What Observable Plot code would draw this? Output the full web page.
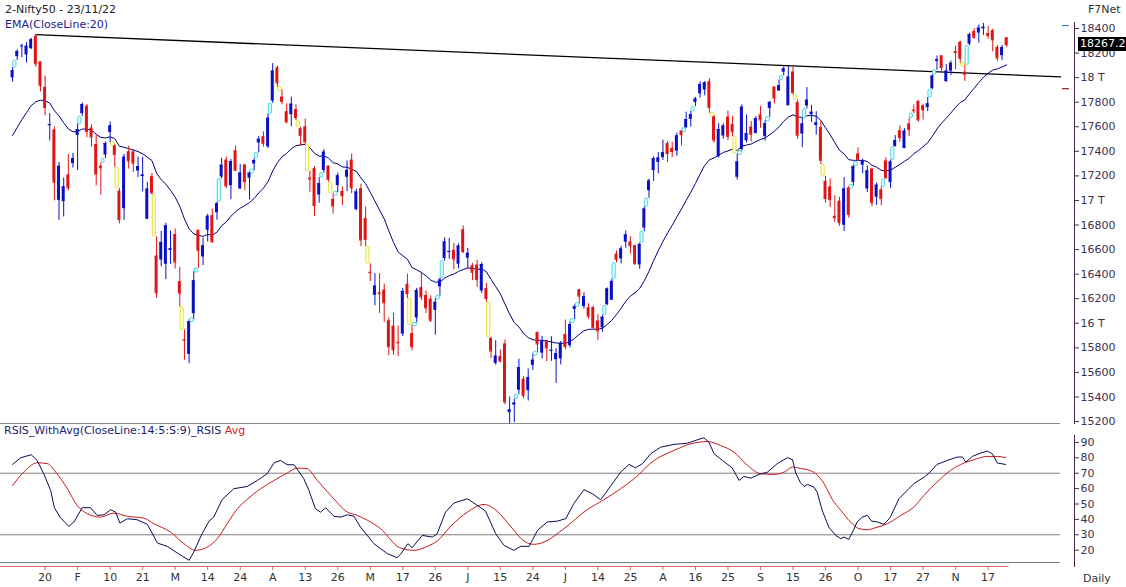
<!DOCTYPE html>
<html><head><meta charset="utf-8">
<script src="https://cdn.jsdelivr.net/npm/d3@7"></script>
<script src="https://cdn.jsdelivr.net/npm/@observablehq/plot@0.6"></script>
<style>
body{margin:0;background:#fff;}
#wrap{position:relative;width:1126px;height:587px;overflow:hidden;font-family:"DejaVu Sans",Verdana,sans-serif;background:#fff;}
.t{position:absolute;font-size:11px;white-space:nowrap;line-height:13px;}
.p{position:absolute;left:0;}
</style></head><body><div id="wrap"></div>
<script>
// ---- Nifty50 daily bars, 11 Jan 2022 .. 23 Nov 2022 ----
const opens = [
17998,18170,18257,18185,18236,18337,18129,17921,17613,17575,
17001,16990,17208,17301,17529,17706,17767,17590,17456,17279,
17370,17553,17451,17076,16933,17396,17396,17240,17195,16847,
17194,16548,16515,16481,16593,16723,16339,15867,15747,16078,
16757,16540,16757,16876,16900,17191,17329,17120,17405,17094,
17289,17181,17297,17468,17519,17437,17809,18080,17842,17723,
17698,17740,17585,17599,17183,17259,17045,17244,17280,17009,
17121,17073,17189,17329,16925,17096,16854,16415,16227,16248,
16270,16021,15977,15845,15912,16318,15917,16043,16290,16226,
16197,16105,16296,16527,16578,16594,16481,16761,16530,16469,
16474,16263,16283,15877,15674,15729,15832,15272,15334,15455,
15545,15451,15657,15926,15757,15860,15774,15703,15710,15909,
15818,16113,16273,16136,16126,16128,16019,15963,16151,16187,
16563,16524,16661,16663,16632,16475,16775,17080,17243,17310,
17349,17464,17424,17402,17566,17592,17660,17797,17868,17899,
17967,17683,17357,17525,17679,17619,17189,17415,17486,17598,
17546,17696,17519,17748,17923,17891,18044,17771,18046,17797,
17541,17770,17698,17610,17594,17156,17111,16871,16994,16798,
17102,17147,17379,17287,17094,17256,17026,17087,17322,17145,
17439,17568,17423,17623,17736,17808,17771,17756,17910,18131,
18178,17968,18053,18212,18288,18044,18272,18376,18363,18398,
18359,18383,18246,18179,18325];
const highs = [
18081,18228,18272,18286,18321,18350,18129,18013,17707,17600,
17309,17182,17373,17383,17622,17794,17781,17617,17536,17306,
17477,17639,17455,17099,17375,17442,17416,17353,17352,17148,
17220,16705,16748,16815,16750,16768,16456,15945,16028,16418,
16757,16694,16888,16928,16987,17344,17353,17334,17443,17292,
17294,17236,17343,17522,17559,17704,18114,18095,17901,17787,
17842,17779,17597,17663,17238,17275,17186,17414,17280,17054,
17223,17110,17322,17378,17092,17133,16946,16484,16404,16404,
16319,16042,16083,15977,16284,16400,15984,16284,16415,16262,
16223,16204,16370,16695,16690,16649,16646,16793,16610,16487,
16514,16492,16324,15886,15858,15783,15863,15401,15383,15707,
15565,15628,15749,15927,15893,15861,15890,15793,15852,16026,
16011,16150,16275,16248,16159,16140,16071,16066,16288,16360,
16588,16627,16752,16706,16636,16654,16948,17173,17356,17390,
17491,17481,17474,17549,17566,17719,17725,17839,17966,17968,
17992,17690,17626,17624,17727,17686,17380,17778,17696,17644,
17683,17765,17651,17807,17926,17981,18088,18092,18096,17820,
17667,17919,17774,17723,17642,17196,17176,17038,17026,17187,
17115,17287,17429,17337,17280,17262,17142,17112,17349,17329,
17528,17608,17584,17670,17778,17812,17784,17839,18023,18176,
18179,18106,18135,18256,18296,18103,18362,18399,18428,18442,
18418,18395,18262,18262,18325];
const lows = [
17964,18139,18163,18119,18228,18084,17884,17690,17485,16997,
16837,16866,17077,17264,17244,17684,17511,17433,17119,17044,
17339,17471,17271,16809,16839,17255,17228,17186,17070,16844,
17043,16203,16460,16356,16480,16442,16133,15700,15672,16029,
16447,16470,16661,16650,16839,17175,17096,17006,17235,17091,
17081,17004,17244,17387,17435,17422,17791,17921,17779,17623,
17600,17650,17442,17457,17067,16870,16978,17222,17150,16888,
17064,16959,17072,17054,16917,16623,16623,16340,16142,16081,
16007,15736,15740,15728,15893,16200,15775,16003,16185,16079,
16006,15903,16221,16506,16521,16438,16443,16567,16444,16347,
16293,16243,16172,15711,15659,15678,15335,15183,15191,15419,
15385,15367,15615,15763,15710,15687,15690,15511,15661,15785,
15800,16031,16157,16115,16031,15950,15858,15927,16142,16187,
16491,16484,16611,16564,16475,16439,16746,17018,17155,17216,
17327,17309,17349,17360,17443,17587,17598,17764,17833,17852,
17711,17467,17345,17499,17487,17519,17166,17402,17468,17476,
17540,17588,17484,17676,17786,17889,18015,17771,17862,17497,
17430,17744,17636,17532,17292,16978,16942,16820,16789,16748,
16856,17117,17316,17217,17065,16950,16960,16957,17170,17099,
17434,17473,17421,17521,17707,17637,17655,17724,17900,18060,
18049,17959,18017,18065,18118,17969,18259,18311,18282,18344,
18312,18210,18133,18138,18246];
const closes = [
18056,18212,18258,18255,18308,18113,17938,17757,17617,17149,
17278,17110,17102,17340,17576,17780,17560,17516,17214,17266,
17464,17606,17375,16843,17352,17322,17304,17276,17207,17092,
17063,16248,16658,16794,16606,16498,16245,15863,16013,16345,
16594,16630,16871,16663,16975,17287,17118,17316,17246,17223,
17153,17222,17325,17498,17465,17670,18053,17957,17807,17640,
17784,17675,17530,17476,17174,16959,17136,17393,17172,16954,
17201,17038,17245,17103,17069,16678,16683,16411,16302,16240,
16167,15809,15782,15842,16259,16240,15809,16266,16215,16125,
16025,16170,16352,16661,16585,16523,16628,16584,16570,16416,
16356,16478,16202,15774,15732,15692,15360,15294,15350,15639,
15413,15557,15699,15832,15850,15799,15780,15752,15835,15811,
15990,16133,16221,16216,16058,15967,15939,16049,16279,16341,
16521,16605,16719,16631,16484,16642,16930,17158,17340,17345,
17388,17382,17398,17525,17535,17659,17698,17825,17944,17957,
17758,17491,17578,17605,17522,17559,17313,17759,17543,17539,
17666,17656,17624,17798,17833,17936,18070,18004,17877,17531,
17622,17816,17718,17630,17327,17016,17007,16859,16818,17094,
16887,17274,17332,17315,17241,16984,17124,17014,17186,17312,
17487,17512,17564,17576,17731,17656,17737,17787,18012,18145,
18083,18053,18117,18203,18157,18028,18350,18329,18403,18410,
18344,18308,18160,18244,18267.25];

// EMA(20) value at the first bar
const emaStart = 17530;
const emaPeriod = 20;

// trendline anchored on two swing highs (bar indices), extended to the right edge of the drawing area
const trendAnchors = [5, 168];
const drawEnd = 225.6;

// RSIS and its average: [bar position, value]
const rsis = [
[0,75.7],[1.7,80],[4,82],[5.3,78.3],[6.7,69.7],[8.2,58.8],[9,47.6],[10.3,41.1],[12.1,35.5],[13.2,38.3],
[15,47.6],[16.8,47.6],[18.2,42.6],[19.7,43],[21.1,46.3],[22.2,44.7],[23.1,37.6],[24.7,40.4],[26.8,39.8],[29,36.8],
[31.2,24.6],[33.3,22.5],[35.5,18.1],[38,13.4],[39,18.8],[40.8,30.7],[42.3,38.9],[43.3,41.5],[45.1,52.8],[47.6,59.9],
[50.5,61.4],[52.7,65.3],[54.8,69.7],[56.3,76.8],[57.7,78.3],[59.1,75.5],[60.6,75.5],[62.7,66.4],[63.8,58.8],[65.2,46.9],
[66.3,44.7],[67.4,47.6],[69.2,42],[70.6,41.5],[72.1,43],[73.5,42],[74.9,35],[77.8,24.2],[80.7,17.7],[82.8,15.1],
[83.5,17.3],[85.1,24.2],[86,21.6],[88.2,29.6],[90.4,28.5],[91.4,30.7],[93.2,44.7],[95,50.6],[97.9,53.4],[100.4,48.4],
[101.8,45.4],[104,30.7],[105.8,23.1],[107.9,19.9],[109.4,22.5],[111.2,22.5],[113,32.9],[115.1,38.3],[117.3,38.9],[119.1,40.5],
[120.8,50.2],[123,59.3],[124.8,56.7],[126.6,52.8],[128.7,61.4],[130.9,70.7],[132.7,75.7],[134.1,73.5],[135.6,76.2],[137.4,82.7],
[139.5,86.9],[142.4,88.7],[145.3,89.5],[147.4,91.7],[148.8,93],[149.9,90.2],[151,82.7],[152.8,78.3],[154.9,73.5],[156.4,65.3],
[157.4,67.9],[158.9,66.8],[160.7,69.2],[162.5,70.7],[164.6,76.2],[166.8,80.1],[167.9,78.8],[168.6,70.1],[169.6,63.9],[170.4,61.4],
[171.1,62.7],[172.5,61],[173.2,57.7],[174.3,45.8],[175.7,35],[177.2,29.6],[178.3,27.5],[179,28.5],[180,27],[181,32.9],
[181.8,38.3],[182.9,41.5],[184,42.6],[184.9,38.9],[186.2,38.3],[187.6,36.8],[188.9,41.1],[190.8,53.4],[194,63.2],[196.2,67.4],
[197.3,70.1],[199,75.7],[201.2,78.3],[203.4,80.5],[204.5,80.5],[205.2,77.2],[206.6,80.9],[208.4,83.1],[209.8,84.4],[210.9,82.7],
[212,76.6],[213.8,75.7]];
const rsisAvg = [
[0,62],[2.4,70.7],[5.3,76.8],[7.5,76.2],[9.3,70.7],[11.8,59.9],[13.9,49.1],[16.1,43.7],[18.9,41.5],[21.8,44.1],
[24.7,42],[28.3,40.8],[30.4,37.2],[34,31.8],[36.9,24.2],[39.4,19.9],[41.9,22],[44.1,27.5],[46.2,37.2],[48.4,46.9],
[50.5,53],[53.4,59.9],[56.3,65.3],[59.1,70.1],[61.3,73.3],[63.4,72.9],[65.6,65.3],[68.5,55.6],[72.1,44.7],[74.2,42.6],
[76.4,39.4],[79.2,34],[83.3,21.7],[86.4,19.9],[89.3,22.5],[91.4,25.9],[94.3,35.5],[97.9,44.7],[101.5,49.7],[104.3,45.4],
[107.2,35.5],[110.1,25.9],[112.2,23.8],[114.4,25.3],[118.7,34],[123.7,46.3],[127.3,52.8],[130.9,59.9],[133.8,66.4],[138.1,78.3],
[142.4,84.8],[146,89.1],[149.6,90.6],[152.4,88],[155.3,83.7],[158.2,75.1],[161,69.7],[163.9,69.2],[166.1,70.7],[167.9,74],
[169.6,73.1],[171.1,72.3],[172.9,69.7],[174.7,63.2],[176.5,52.8],[178.3,45.8],[180.4,38.3],[182.2,34],[184,33.3],[185.8,34.6],
[188.3,37.2],[191.2,42.6],[194,48],[196.2,55.6],[199,64.2],[201.9,71.8],[204.8,76.6],[207,78.8],[209.8,80.9],[212,80.9],[213.8,80.1]];

// axis ticks
const priceTicks = d3.range(15200, 18401, 200);
const rsiTicks = [20, 30, 40, 50, 60, 70, 80, 90];
const rsiLevels = [70, 30];
const dateTickBars = d3.range(7, 211, 7);
const dateTickLabels = ["20","F","10","21","M","14","24","A","13","26","M","17","26","J","15","24","J","14","25","A","16","25","S","15","26","O","17","27","N","17"];
// short side markers near the price axis
const sideMarks = [{p: 18424, c: "#3b82c4"}, {p: 17910, c: "#8a1c1c"}];

// ---- derived tables ----
const N = closes.length;
const bars = closes.map((c, i) => ({i, o: opens[i], h: highs[i], l: lows[i], c}));
const upBars = bars.filter(d => d.c >= d.o);
const dnBars = bars.filter(d => d.c < d.o);
const gaps = [];
for (let i = 1; i < N; i++) {
  if (lows[i] > highs[i - 1]) gaps.push({i: i - 0.5, a: highs[i - 1], b: lows[i], up: true});
  else if (highs[i] < lows[i - 1]) gaps.push({i: i - 0.5, a: highs[i], b: lows[i - 1], up: false});
}
const k = 2 / (emaPeriod + 1);
const ema = [];
closes.forEach((c, i) => ema.push({i, v: i === 0 ? emaStart : ema[i - 1].v + k * (c - ema[i - 1].v)}));
const [ta, tb] = trendAnchors;
const slope = (highs[tb] - highs[ta]) / (tb - ta);
const trend = [{i: ta, p: highs[ta]}, {i: drawEnd, p: highs[ta] + slope * (drawEnd - ta)}];

const BLUE = "#0a10c8", RED = "#e01414";
const CYAN = "#3fd8e0", YEL = "#e6e02a";
const AX = "#4b2a4b", AXT = "#3a3050";
const xDomain = [-2.6, 228.6];
const hw = 0.32;

const fontStyle = {background: "transparent", fontFamily: "DejaVu Sans, Verdana, sans-serif", fontSize: "11px", overflow: "visible"};

const pricePlot = Plot.plot({
  width: 1126, height: 424,
  marginLeft: 0, marginRight: 52, marginTop: 22, marginBottom: 1,
  style: fontStyle,
  x: {domain: xDomain, axis: null},
  y: {domain: [15184, 18449], range: [423, 22], axis: null},
  marks: [
    Plot.ruleY([15184], {x1: xDomain[0], x2: drawEnd, stroke: "#8a8a8a"}),
    Plot.line(trend, {x: "i", y: "p", stroke: "#000", strokeWidth: 1.3}),
    Plot.line(ema, {x: "i", y: "v", stroke: "#000080", strokeWidth: 1}),
    Plot.ruleX(upBars, {x: "i", y1: "l", y2: "h", stroke: BLUE}),
    Plot.ruleX(dnBars, {x: "i", y1: "l", y2: "h", stroke: RED}),
    Plot.rect(upBars, {x1: d => d.i - hw, x2: d => d.i + hw, y1: "o", y2: "c", fill: BLUE}),
    Plot.rect(dnBars, {x1: d => d.i - hw, x2: d => d.i + hw, y1: "o", y2: "c", fill: RED}),
    Plot.ruleY(upBars, {y: "c", x1: d => d.i - hw, x2: d => d.i + hw, stroke: BLUE}),
    Plot.ruleY(dnBars, {y: "c", x1: d => d.i - hw, x2: d => d.i + hw, stroke: RED}),
    Plot.rect(gaps, {x1: d => d.i - 0.33, x2: d => d.i + 0.33, y1: "a", y2: "b", rx: 1.6,
      stroke: d => d.up ? CYAN : YEL, fill: d => d.up ? "#effefe" : "#fffff0", strokeWidth: 1}),
    Plot.dot(gaps.filter(d => d.b - d.a < 30), {x: "i", y: d => (d.a + d.b) / 2, r: 2,
      stroke: d => d.up ? CYAN : YEL, fill: "#fff", strokeWidth: 1}),
    Plot.ruleY(sideMarks, {y: "p", x1: 226, x2: 227.5, stroke: "c", strokeWidth: 1.2}),
    Plot.axisY({anchor: "right", ticks: priceTicks, tickSize: 4, tickPadding: 2, stroke: AX, fill: AXT, label: null,
      tickFormat: d => d % 1000 === 0 ? `${d / 1000} T` : `${d}`}),
    Plot.frame({anchor: "right", stroke: AX})
  ]
});

const rsiPlot = Plot.plot({
  width: 1126, height: 164,
  marginLeft: 0, marginRight: 52, marginTop: 12, marginBottom: 21,
  style: fontStyle,
  x: {domain: xDomain, axis: null},
  y: {domain: [9.4, 94.5], range: [143, 12], axis: null},
  marks: [
    Plot.ruleY(rsiLevels, {x1: xDomain[0], x2: drawEnd, stroke: "#808080"}),
    Plot.ruleY([12], {x1: xDomain[0], x2: drawEnd, stroke: "#808080"}),
    Plot.ruleY([9.4], {x1: xDomain[0], x2: N - 0.5, stroke: "#e06a6a"}),
    Plot.line(rsisAvg, {x: d => d[0], y: d => d[1], stroke: "#c81a1a", strokeWidth: 1, curve: "monotone-x"}),
    Plot.line(rsis, {x: d => d[0], y: d => d[1], stroke: "#0c0c52", strokeWidth: 1}),
    Plot.axisY({anchor: "right", ticks: rsiTicks, tickSize: 4, tickPadding: 2, stroke: AX, fill: AXT, label: null}),
    Plot.axisX({anchor: "bottom", ticks: dateTickBars, tickSize: 4, tickPadding: 3, stroke: "#e06a6a", fill: "#333", label: null,
      tickFormat: d => dateTickLabels[dateTickBars.indexOf(d)]}),
    Plot.frame({anchor: "right", stroke: AX})
  ]
});

const wrap = document.getElementById("wrap");
pricePlot.classList.add("p"); pricePlot.style.top = "0px";
rsiPlot.classList.add("p"); rsiPlot.style.top = "423px";
wrap.appendChild(pricePlot);
wrap.appendChild(rsiPlot);

function addText(txt, left, top, color, extra) {
  const d = document.createElement("div");
  d.className = "t"; d.style.left = left + "px"; d.style.top = top + "px"; d.style.color = color;
  if (extra) Object.assign(d.style, extra);
  d.innerHTML = txt; wrap.appendChild(d); return d;
}
addText("2-Nifty50 - 23/11/22", 5, 3, "#222");
addText("EMA(CloseLine:20)", 5, 18, "#1c1c8a");
addText("F7Net", 1088, 3, "#333");
addText("Daily", 1083, 572, "#333");
addText('RSIS_WithAvg(CloseLine:14:5:S:9)_RSIS <span style="color:#d42020">Avg</span>', 4, 424, "#1c1c6e");
const lastY = pricePlot.scale("y").apply(closes[N - 1]);
addText((Math.floor(closes[N - 1] * 10) / 10).toFixed(1), 1078, lastY - 7, "#fff",
  {background: "#000", padding: "0 3px 0 2px", height: "14px", lineHeight: "14px"});
</script></body></html>
